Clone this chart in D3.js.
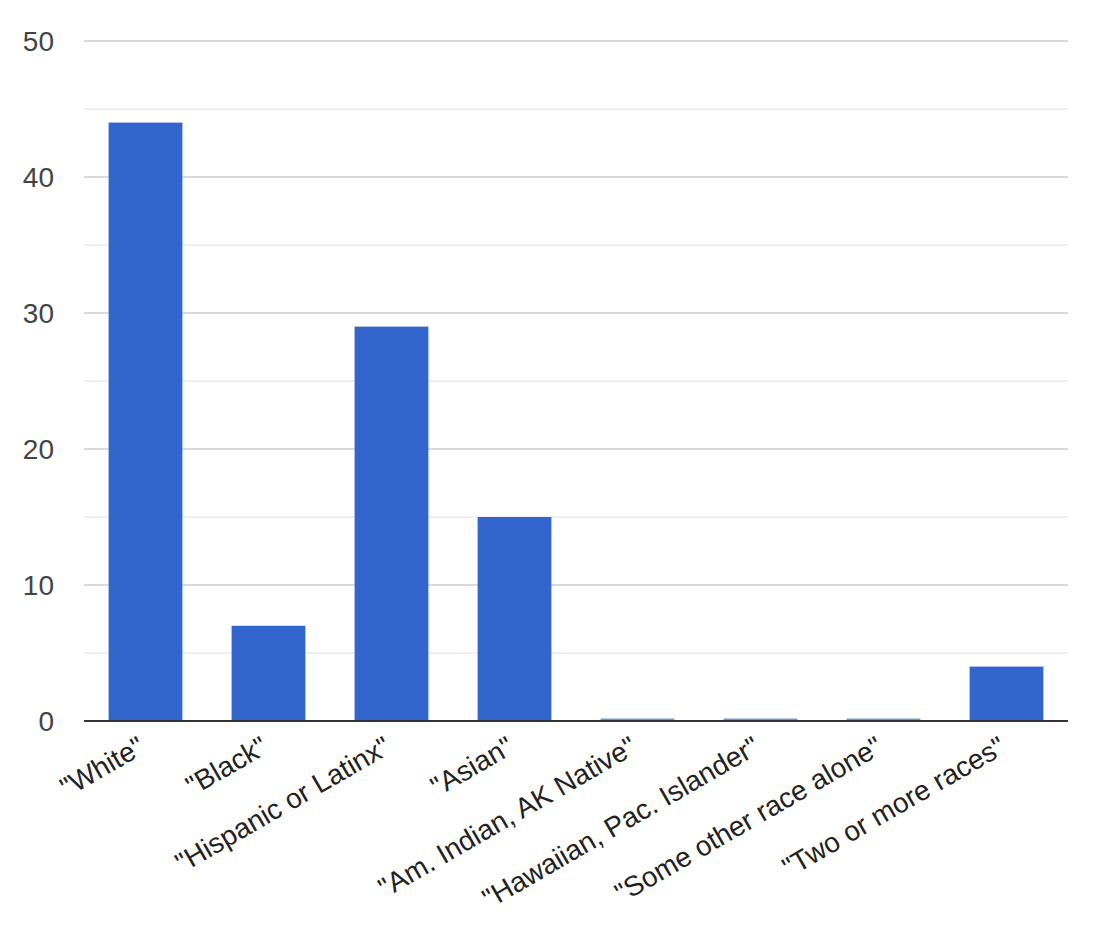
<!DOCTYPE html>
<html><head><meta charset="utf-8">
<script src="https://cdn.jsdelivr.net/npm/d3@7"></script>
<style>body{margin:0;background:#fff}svg{display:block}</style>
</head><body>
<svg id="c" width="1093" height="933"></svg>
<script>
const categories = ['"White"','"Black"','"Hispanic or Latinx"','"Asian"','"Am. Indian, AK Native"','"Hawaiian, Pac. Islander"','"Some other race alone"','"Two or more races"'];
const values = [44, 7, 29, 15, 0, 0, 0, 4];
const majorTicks = [0, 10, 20, 30, 40, 50];
const minorTicks = [5, 15, 25, 35, 45];

(function () {
const svg = d3.select('#c');
const mLeft = 84, mRight = 1068, mTop = 41, mBottom = 721;
const x = d3.scaleBand().domain(categories).range([mLeft, mRight]).paddingInner(0.4).paddingOuter(0.2);
const y = d3.scaleLinear().domain([0, 50]).range([mBottom, mTop]);

svg.selectAll('line.minor').data(minorTicks).join('line').attr('class', 'minor')
  .attr('x1', mLeft).attr('x2', mRight)
  .attr('y1', d => y(d)).attr('y2', d => y(d))
  .attr('stroke', '#ebebeb').attr('stroke-width', 1.5);
svg.selectAll('line.major').data(majorTicks.filter(d => d > 0)).join('line').attr('class', 'major')
  .attr('x1', mLeft).attr('x2', mRight)
  .attr('y1', d => y(d)).attr('y2', d => y(d))
  .attr('stroke', '#cccccc').attr('stroke-width', 1.5);

svg.selectAll('text.yl').data(majorTicks).join('text').attr('class', 'yl')
  .attr('x', 54).attr('y', d => y(d)).attr('dy', '0.36em')
  .attr('text-anchor', 'end')
  .attr('font-family', 'Liberation Sans, Arial, sans-serif')
  .attr('font-size', 28).attr('fill', '#444')
  .text(d => d);

svg.selectAll('rect.bar').data(values).join('rect').attr('class', 'bar')
  .attr('x', (d, i) => x(categories[i]))
  .attr('width', x.bandwidth())
  .attr('y', d => Math.min(y(d), y(0) - 2.5))
  .attr('height', d => Math.max(y(0) - y(d), 2.5))
  .attr('fill', '#3366cc')
  .attr('fill-opacity', d => d === 0 ? 0.7 : 1);

svg.append('line').attr('x1', mLeft).attr('x2', mRight)
  .attr('y1', y(0)).attr('y2', y(0))
  .attr('stroke', '#333').attr('stroke-width', 2);

svg.selectAll('text.xl').data(categories).join('text').attr('class', 'xl')
  .attr('transform', d => `translate(${x(d) + x.bandwidth() / 2 + 1},${mBottom + 31}) rotate(-30)`)
  .attr('text-anchor', 'end')
  .attr('font-family', 'Liberation Sans, Arial, sans-serif')
  .attr('font-size', 28).attr('fill', '#222')
  .text(d => d);
})();
</script>
</body></html>
